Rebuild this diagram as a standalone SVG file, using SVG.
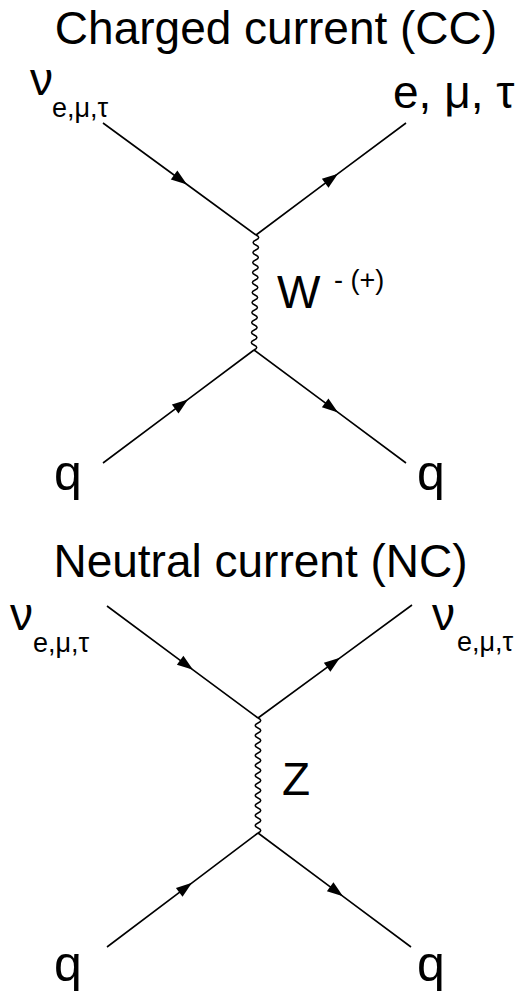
<svg xmlns="http://www.w3.org/2000/svg" width="523" height="992" viewBox="0 0 523 992">
<style>
  text { font-family: "Liberation Sans", Arial, sans-serif; fill: #000; }
  .big { font-size: 46px; }
  .q { font-size: 50px; }
  .sub { font-size: 27px; }
  .fermion { fill: none; stroke: #000; stroke-width: 1.6; marker-mid: url(#arrow); }
  .boson { fill: none; stroke: #000; stroke-width: 1.5; }
</style>
<defs>
  <marker id="arrow" markerUnits="userSpaceOnUse" viewBox="-17 -7 18 14" refX="0" refY="0" markerWidth="18" markerHeight="14" orient="auto">
    <path d="M0,0 L-16,-5.5 L-16,5.5 Z" fill="#000"/>
  </marker>
</defs>
<rect width="523" height="992" fill="#fff"/>

<g id="title-cc"><text class="big" x="276" y="44" text-anchor="middle">Charged current (CC)</text></g>
<g id="cc-nu-in"><text class="big" x="30" y="95">ν</text><text class="sub" x="52" y="117">e,μ,τ</text></g>
<g id="cc-lepton-out"><text class="big" x="393" y="108">e, μ, τ</text></g>
<g id="cc-w"><text class="big" x="277" y="308">W</text><text class="sub" x="334" y="289">- (+)</text></g>
<g id="cc-q-in"><text class="q" x="54" y="490">q</text></g>
<g id="cc-q-out"><text class="q" x="417" y="490">q</text></g>

<g id="title-nc"><text class="big" x="260.5" y="577" text-anchor="middle">Neutral current (NC)</text></g>
<g id="nc-nu-in"><text class="big" x="10" y="630">ν</text><text class="sub" x="33" y="652">e,μ,τ</text></g>
<g id="nc-nu-out"><text class="big" x="432" y="630">ν</text><text class="sub" x="457" y="651">e,μ,τ</text></g>
<g id="nc-z"><text class="big" x="282" y="795">Z</text></g>
<g id="nc-q-in"><text class="q" x="54" y="981">q</text></g>
<g id="nc-q-out"><text class="q" x="417" y="981">q</text></g>

<g id="connectors">
  <polyline class="fermion" points="103,123 187,184.5 256,235"/>
  <polyline class="fermion" points="256,235 338,173.7 406,123"/>
  <polyline class="fermion" points="103,463 188,399.4 254,350"/>
  <polyline class="fermion" points="254,350 338,412.4 406,463"/>
  <path class="boson" d="M256,235 q5.5,2.5 -0.09,5 t-0.09,5 t-0.09,5 t-0.09,5 t-0.09,5 t-0.09,5 t-0.09,5 t-0.09,5 t-0.09,5 t-0.09,5 t-0.09,5 t-0.09,5 t-0.09,5 t-0.09,5 t-0.09,5 t-0.09,5 t-0.09,5 t-0.09,5 t-0.09,5 t-0.09,5 t-0.09,5 t-0.09,5 t-0.09,5"/>

  <polyline class="fermion" points="107,606 193,669.8 258,718"/>
  <polyline class="fermion" points="258,718 340,657.8 412,605"/>
  <polyline class="fermion" points="107,947 192,882.8 258,833"/>
  <polyline class="fermion" points="258,833 343,896.3 411,947"/>
  <path class="boson" d="M258,718 q5.5,2.5 0,5 t0,5 t0,5 t0,5 t0,5 t0,5 t0,5 t0,5 t0,5 t0,5 t0,5 t0,5 t0,5 t0,5 t0,5 t0,5 t0,5 t0,5 t0,5 t0,5 t0,5 t0,5 t0,5"/>
</g>
</svg>
